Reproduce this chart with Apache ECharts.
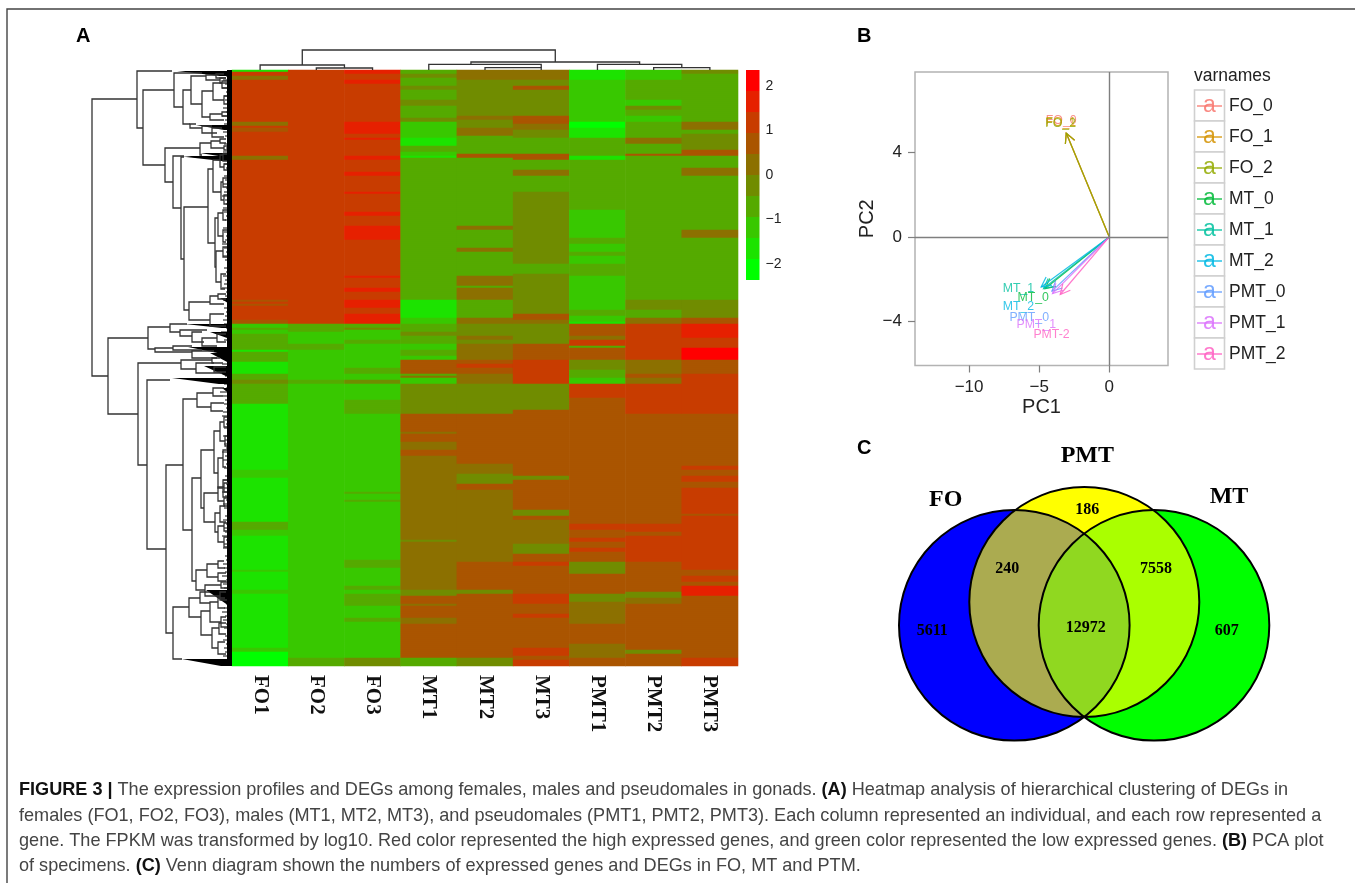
<!DOCTYPE html>
<html><head><meta charset="utf-8">
<style>html,body{margin:0;padding:0;background:#fff}#c{width:1355px;height:883px}</style>
<script src="https://cdn.jsdelivr.net/npm/echarts@6/dist/echarts.min.js"></script>
</head><body><div id="c"></div>
<script>
// ---------- Panel A: heatmap ----------
const sampleNames = ['FO1','FO2','FO3','MT1','MT2','MT3','PMT1','PMT2','PMT3'];
const geneRowCount = 298;
// each column: runs of [last row of the run, log10 FPKM z-score]
const colFO1 = [[1,-1.65],[3,1.2],[5,.25],[26,1.2],[28,.25],[29,1.2],[31,.7],[43,1.2],[45,.25],[115,1.2],[116,.7],[117,1.2],[118,.7],[125,1.2],[127,.7],[129,-1.2],[130,-.7],[132,-1.2],[140,-.7],[141,-1.65],[146,-.7],[152,-1.65],[155,-.7],[157,-.25],[164,-.7],[167,-.7],[180,-1.65],[200,-1.65],[204,-1.2],[226,-1.65],[230,-.7],[233,-1.2],[250,-1.65],[251,-1.2],[260,-1.65],[262,-1.2],[289,-1.65],[291,-1.2],[298,-2.1]];
const colFO2 = [[127,1.2],[131,-.7],[137,-1.2],[140,-.7],[145,-1.2],[155,-1.2],[157,-.7],[294,-1.2],[298,-.7]];
const colFO3 = [[2,1.65],[5,1.2],[7,1.65],[26,1.2],[32,1.65],[34,1.2],[35,1.65],[43,1.2],[45,1.65],[51,1.2],[53,1.65],[61,1.2],[62,1.65],[71,1.2],[73,1.65],[78,1.2],[80,1.65],[85,1.65],[103,1.2],[104,1.65],[109,1.2],[111,1.65],[115,1.2],[119,1.65],[122,1.2],[127,1.65],[129,-.7],[130,-.25],[135,-1.2],[137,-.7],[149,-1.2],[152,-.7],[155,-1.2],[157,-.25],[165,-1.2],[172,-.7],[211,-1.2],[212,-.7],[215,-1.2],[216,-.7],[245,-1.2],[249,-.7],[258,-1.2],[260,-.7],[262,-1.2],[268,-.7],[274,-1.2],[276,-.7],[294,-1.2],[298,-.25]];
const colMT1 = [[2,-.7],[4,-.25],[8,-.7],[10,-.25],[15,-.7],[18,-.25],[24,-.7],[26,-.25],[34,-1.2],[38,-1.65],[41,-.7],[43,-1.2],[44,-1.65],[115,-.7],[124,-1.65],[127,-1.2],[131,-.7],[133,-.25],[137,-.7],[140,-1.2],[143,-.7],[145,-1.2],[152,.7],[153,-.7],[154,.25],[157,-1.2],[172,-.25],[181,.7],[182,.25],[186,.7],[190,.25],[193,.7],[200,.25],[211,.25],[235,.25],[236,-.25],[242,.25],[260,.25],[263,-.25],[267,.7],[268,.25],[274,.7],[277,.25],[294,.7],[298,-.7]];
const colMT2 = [[5,.25],[23,-.25],[25,.25],[29,-.25],[33,.25],[42,-.7],[44,.7],[78,-.7],[80,.25],[89,-.7],[91,.25],[103,-.7],[108,.25],[109,-.7],[115,.25],[124,-.7],[127,.25],[133,-.25],[135,.25],[137,-.25],[145,.25],[147,.7],[149,1.2],[152,.7],[157,.25],[172,-.25],[197,.7],[202,.25],[207,-.25],[210,.7],[214,.25],[246,.25],[260,.7],[262,-.25],[294,.7],[298,-.25]];
const colMT3 = [[5,.25],[8,-.25],[10,.7],[23,-.25],[27,.7],[30,.25],[34,-.25],[42,-.7],[45,.7],[50,-.7],[53,.25],[61,-.7],[67,-.25],[97,-.25],[102,-.7],[122,-.25],[125,.7],[127,.25],[137,-.25],[145,.7],[157,1.2],[170,-.25],[203,.7],[205,-.25],[220,.7],[223,-.25],[225,.7],[227,.25],[237,.25],[242,-.25],[246,.7],[248,1.2],[262,.7],[267,1.2],[272,.7],[274,1.2],[277,.7],[289,.7],[293,1.2],[295,.7],[298,1.2]];
const colPMT1 = [[5,-1.65],[26,-1.2],[29,-2.1],[34,-1.65],[43,-.7],[45,-1.65],[70,-.7],[84,-1.2],[87,-.7],[91,-1.2],[93,-.7],[97,-1.2],[103,-.7],[115,-1.2],[120,-1.2],[123,-.7],[126,-1.2],[127,-1.65],[133,.7],[135,.25],[138,1.2],[139,-.7],[145,.7],[150,-.25],[154,-.7],[157,-1.2],[164,1.2],[167,.7],[227,.7],[230,1.2],[234,.7],[236,1.2],[239,.7],[241,1.2],[246,.7],[252,-.25],[262,.7],[266,-.25],[277,.25],[287,.7],[294,.25],[298,.7]];
const colPMT2 = [[5,-1.2],[15,-.7],[18,-1.2],[20,-.25],[23,-.7],[26,-1.2],[34,-.7],[37,.25],[42,-.7],[43,.7],[115,-.7],[120,-.25],[124,-.7],[127,.25],[145,1.2],[152,.25],[154,.7],[157,.25],[172,1.2],[227,.7],[231,1.2],[233,.7],[246,1.2],[261,.7],[264,-.25],[267,.25],[290,.7],[292,-.25],[298,.7]];
const colPMT3 = [[2,-.25],[26,-.7],[30,.25],[32,-.7],[40,-.25],[43,.7],[49,-.7],[53,.25],[80,-.7],[84,.25],[115,-.7],[124,-.25],[127,.7],[134,1.65],[139,1.2],[145,2.1],[152,.7],[172,1.2],[198,.7],[200,1.2],[203,.7],[206,1.2],[209,.7],[222,1.2],[223,.7],[250,1.2],[253,.7],[256,1.2],[258,.7],[263,1.65],[294,.7],[298,1.2]];
const heatColumns = [colFO1,colFO2,colFO3,colMT1,colMT2,colMT3,colPMT1,colPMT2,colPMT3];
// colour key: ten steps, bottom to top
const keyBreaks = [-2.36,-1.888,-1.416,-.944,-.472,0,.472,.944,1.416,1.888,2.36];
const keyColors = ['#00ff00','#1ce300','#38c800','#55aa00','#708c00','#8c7000','#aa5500','#c83c00','#e62000','#ff0000'];
const keyTicks = [-2,-1,0,1,2];
// row dendrogram: [merge height, leaf a, leaf b, height of child a, height of child b]
const rowTree = [
[140,29,306,95,124],[95,1,58,60,89],[89,20,95,58,67],[58,3,37,30,49],[49,20,54,41,42],[41,6,34,26,30],[26,5,10,16,12],[16,4,8,8,6],[12,8,13,6,5],[30,21,47,19,22],[19,13,30,10,8],[10,11,18,5,5],[8,26,34,5,5],[22,44,50,10,8],[10,42,46,5,5],[42,54,58,36,30],[30,56,63,20,15],[20,58,67,10,8],[67,78,112,32,59],[32,73,85,21,30],[21,71,78,12,8],[12,69,73,6,6],[8,76,80,5,5],
[59,86,138,48,51],[51,87,189,48,48],[48,137,240,24,43],[24,99,173,19,17],[19,90,122,12,11],[12,85,97,9,8],[9,84,91,5,5],[8,94,100,5,5],[11,112,130,9,8],[9,108,117,5,5],[8,125,134,5,5],[17,148,197,14,16],[14,143,166,9,9],[9,140,150,5,6],[9,160,172,5,6],[16,181,212,9,11],[9,177,187,5,5],[11,204,219,6,7],[43,232,250,22,22],[22,226,234,14,8],[14,224,229,6,6],[22,244,256,8,6],
[124,268,344,84,94],[84,257,279,62,77],[62,254,262,45,52],[52,260,266,25,40],[40,262,272,30,28],[30,268,276,15,15],[15,264,272,6,6],[77,278,282,59,40],[59,276,280,40,30],[40,281,288,18,15],[94,293,395,51,85],[51,290,299,20,36],[20,288,293,12,9],[36,293,303,18,10],[18,297,302,6,6],[85,310,479,62,66],[66,395,563,49,59],[49,329,460,35,40],[35,323,337,19,21],[19,318,326,8,9],[21,333,341,8,9],[40,408,511,31,36],[31,380,438,18,28],[18,361,403,12,14],[12,352,371,8,7],[8,347,357,5,5],[7,366,376,5,5],[14,388,418,9,9],[9,380,397,5,6],[9,410,427,5,5],
[28,423,452,14,17],[14,417,431,8,8],[8,413,422,4,5],[8,428,436,5,5],[17,443,462,12,14],[12,436,452,7,6],[14,456,472,8,8],[8,453,461,5,5],[8,467,477,5,5],[36,500,520,25,27],[25,494,507,14,14],[14,491,498,8,7],[14,503,511,6,6],[27,515,526,11,12],[11,512,518,5,5],[12,522,530,6,5],
[59,537,589,43,50],[43,528,547,32,31],[32,522,533,22,22],[31,541,565,22,20],[22,532,552,14,11],[14,528,538,7,7],[11,547,557,6,5],[20,558,578,13,14],[13,553,564,6,6],[14,572,584,7,6]
];
// tapered black combs of very close merges: [first leaf, last leaf, reach]
const rowCombs = [[1,6,55],[55,60,36],[83,87,32],[86,90,50],[254,258,47],[277,284,44],[283,292,22],[296,306,28],[308,314,60],[520,534,26],[589,596,50],[87,91,46],[262,268,22],[318,324,10],[228,234,12]];
// how far the finest twig reaches from the leaves, one value per four leaves
const leafReach = [8,6,9,7,10,6,8,7,5,9,6,10,7,8,6,9,7,5,8,6,9,11,7,8,6,5,8,7,9,6,8,10,7,6,9,8,6,7,5,9,8,6,7,10,8,6,9,7,5,8,6,9,7,8,10,6,7,9,5,8,6,7,9,8,6,11,7,8,5,9,6,8,7,10,6,9,7,5,8,6,12,9,7,8,6,9,10,7,6,8,5,9,7,8,6,10,7,9,6,8,5,7,9,6,8,10,7,6,9,8,5,7,9,6,8,7,10,6,8,9,5,7,6,9,8,7,10,6,9,8,7,5,9,6,8,10,7,9,6,8,5,7,9,6,8,7,9,6,8];
// column dendrogram: [merge height, col a, col b, height a, height b], with columns centred on i + .5
const colTree = [[20,1.25,5.75,5,8],[5,.5,2,0,2],[2,1.5,2.5,0,0],[8,4.25,7.25,5.7,5.7],[5.7,3.5,5.5,0,2.3],[2.3,4.5,5.5,0,0],[5.7,6.5,8,0,2.3],[2.3,7.5,8.5,0,0]];

// ---------- Panel B: PCA ----------
const pcaNames = ['FO_0','FO_1','FO_2','MT_0','MT_1','MT_2','PMT_0','PMT_1','PMT_2'];
const pcaLabels = ['FO_0','FO_1','FO_2','MT_0','MT_1','MT_2','PMT_0','PMT_1','PMT-2'];
const pcaColors = ['#F8766D','#D39200','#93AA00','#00BA38','#00C19F','#00B9E3','#619CFF','#DB72FB','#FF61C3'];
const pc1 = [-3.07,-3.07,-3.07,-4.57,-4.69,-4.86,-4.09,-4.05,-3.5];
const pc2 = [4.93,4.93,4.93,-2.45,-2.45,-2.37,-2.57,-2.69,-2.73];
const labelPc1 = [-3.43,-3.46,-3.47,-5.43,-6.48,-6.48,-5.71,-5.21,-4.12];
const labelPc2 = [5.5,5.42,5.38,-2.88,-2.45,-3.32,-3.84,-4.16,-4.63];
const pc1Ticks = [-10,-5,0];
const pc2Ticks = [-4,0,4];

// ---------- Panel C: Venn ----------
const vennSets = ['FO','MT','PMT'];
const vennColors = ['#0000ff','#00ff00','#ffff00'];
const vennCx = [134.3,274,204.3];
const vennCy = [185.3,185.3,162];
const vennR = [115.3,115.3,115];
const vennOverlaps = [[0,2,'#abab50'],[1,2,'#aaff00'],[0,1,'#90d820']];
const vennTexts = ['FO','PMT','MT','186','240','7558','5611','12972','607'];
const vennTextX = [65.7,207.3,349,207.3,127.3,276,52.3,205.7,346.7];
const vennTextY = [59.3,15.7,56.7,70,129.3,129.3,191.3,187.7,191.3];
const vennTextBig = [1,1,1,0,0,0,0,0,0];

const captionLines = [
 '{b|FIGURE 3 |} The expression profiles and DEGs among females, males and pseudomales in gonads. {b|(A)} Heatmap analysis of hierarchical clustering of DEGs in',
 'females (FO1, FO2, FO3), males (MT1, MT2, MT3), and pseudomales (PMT1, PMT2, PMT3). Each column represented an individual, and each row represented a',
 'gene. The FPKM was transformed by log10. Red color represented the high expressed genes, and green color represented the low expressed genes. {b|(B)} PCA plot',
 'of specimens. {b|(C)} Venn diagram shown the numbers of expressed genes and DEGs in FO, MT and PTM.'
];

// ---------- build ----------
const heatData = [];
heatColumns.forEach((runs, c) => {
  let r = 0;
  runs.forEach(([end, z]) => { for (; r < end; r++) heatData.push([c, r, z]); });
});
const rowLabels = Array.from({length: geneRowCount}, (_, i) => String(i));
const treeLine = {stroke: '#333', lineWidth: 1.3, fill: null};
const pieces = keyColors.map((color, i) => ({min: keyBreaks[i], max: keyBreaks[i + 1], color}));
const sans = '"Liberation Sans", Arial, sans-serif';
const serif = '"Liberation Serif", "Times New Roman", serif';
const hidden = {show: false};

function circlePoints(a, b) {
  const dx = vennCx[b] - vennCx[a], dy = vennCy[b] - vennCy[a], d = Math.hypot(dx, dy);
  const m = (d * d + vennR[a] * vennR[a] - vennR[b] * vennR[b]) / (2 * d);
  const h = Math.sqrt(vennR[a] * vennR[a] - m * m);
  const px = vennCx[a] + m * dx / d, py = vennCy[a] + m * dy / d;
  return [[px - h * dy / d, py + h * dx / d], [px + h * dy / d, py - h * dx / d]];
}
function arcBetween(i, p, q) {
  let a = Math.atan2(p[1] - vennCy[i], p[0] - vennCx[i]);
  let b = Math.atan2(q[1] - vennCy[i], q[0] - vennCx[i]);
  let d = b - a;
  while (d > Math.PI) d -= 2 * Math.PI;
  while (d < -Math.PI) d += 2 * Math.PI;
  const out = [];
  for (let k = 0; k <= 60; k++) {
    const t = a + d * k / 60;
    out.push([vennCx[i] + vennR[i] * Math.cos(t), vennCy[i] + vennR[i] * Math.sin(t)]);
  }
  return out;
}

const option = {
  animation: false,
  backgroundColor: '#fff',
  textStyle: {fontFamily: sans},
  visualMap: {show: false, type: 'piecewise', seriesIndex: 0, pieces},
  grid: [
    {left: 232, top: 70, width: 506, height: 596},
    {left: 60, top: 70, width: 172, height: 596},
    {left: 232, top: 40, width: 506, height: 30},
    {left: 746, top: 70, width: 13.5, height: 210},
    {left: 915, top: 72, width: 253, height: 293.5, show: true, borderColor: '#b3b3b3', borderWidth: 1.5, backgroundColor: '#fff'},
    {left: 880, top: 440, width: 420, height: 310}
  ],
  xAxis: [
    {gridIndex: 0, type: 'category', data: sampleNames, axisLine: hidden, axisTick: hidden, splitLine: hidden,
     axisLabel: {rotate: -90, margin: 9, interval: 0, fontFamily: serif, fontWeight: 'bold', fontSize: 21, color: '#111'}},
    {gridIndex: 1, type: 'value', min: 0, max: 172, inverse: true, show: false},
    {gridIndex: 2, type: 'value', min: 0, max: 9, show: false},
    {gridIndex: 3, type: 'value', min: 0, max: 1, show: false},
    {gridIndex: 4, type: 'value', min: -13.86, max: 4.19, splitLine: hidden, axisLine: {show: false, onZero: false},
     axisTick: {show: true, length: 7, customValues: pc1Ticks, lineStyle: {color: '#7f7f7f', width: 1.2}},
     axisLabel: {customValues: pc1Ticks, margin: 13, fontSize: 17, color: '#222', fontFamily: sans,
       formatter: v => String(v).replace('-', '\u2212')},
     name: 'PC1', nameLocation: 'middle', nameGap: 32, nameTextStyle: {fontSize: 20, color: '#222', fontFamily: sans}},
    {gridIndex: 5, type: 'value', min: 0, max: 420, show: false}
  ],
  yAxis: [
    {gridIndex: 0, type: 'category', data: rowLabels, inverse: true, show: false},
    {gridIndex: 1, type: 'value', min: 0, max: 596, inverse: true, show: false},
    {gridIndex: 2, type: 'value', min: 0, max: 30, show: false},
    {gridIndex: 3, type: 'value', min: -2.36, max: 2.36, position: 'right', splitLine: hidden, axisLine: hidden, axisTick: hidden,
     axisLabel: {customValues: keyTicks, margin: 6, fontSize: 14, color: '#222', fontFamily: sans,
       formatter: v => String(v).replace('-', '\u2212')}},
    {gridIndex: 4, type: 'value', min: -6.1, max: 7.83, splitLine: hidden, axisLine: {show: false, onZero: false},
     axisTick: {show: true, length: 7, customValues: pc2Ticks, lineStyle: {color: '#7f7f7f', width: 1.2}},
     axisLabel: {customValues: pc2Ticks, margin: 13, fontSize: 17, color: '#222', fontFamily: sans,
       formatter: v => String(v).replace('-', '\u2212')},
     name: 'PC2', nameLocation: 'middle', nameGap: 38, nameRotate: 90, nameTextStyle: {fontSize: 20, color: '#222', fontFamily: sans}},
    {gridIndex: 5, type: 'value', min: 0, max: 310, inverse: true, show: false}
  ],
  series: [
    {type: 'heatmap', xAxisIndex: 0, yAxisIndex: 0, data: heatData, progressive: 0, silent: true, itemStyle: {borderWidth: 0}},
    // leaf comb
    {type: 'custom', xAxisIndex: 1, yAxisIndex: 1, silent: true, clip: false, data: leafReach.map((h, i) => [h, i * 4 + 2]),
     renderItem: (p, api) => {
       const a = api.coord([api.value(0), api.value(1)]), b = api.coord([0, api.value(1)]);
       return {type: 'line', shape: {x1: a[0], y1: a[1], x2: b[0], y2: b[1]}, style: {stroke: '#222', lineWidth: 1.1}};
     }},
    {type: 'custom', xAxisIndex: 1, yAxisIndex: 1, silent: true, clip: false, data: rowCombs,
     renderItem: (p, api) => {
       const y1 = api.value(0), y2 = api.value(1), h = api.value(2);
       return {type: 'polygon', shape: {points: [api.coord([h, y1]), api.coord([0, y1]), api.coord([0, y2]), api.coord([h * .22, y2])]}, style: {fill: '#000'}};
     }},
    {type: 'custom', xAxisIndex: 1, yAxisIndex: 1, silent: true, clip: false, data: [[0, 0, 596, 5]],
     renderItem: (p, api) => {
       const a = api.coord([api.value(3), api.value(1)]), b = api.coord([0, api.value(2)]);
       return {type: 'rect', shape: {x: a[0], y: a[1], width: b[0] - a[0], height: b[1] - a[1]}, style: {fill: '#000'}};
     }},
    {type: 'custom', xAxisIndex: 1, yAxisIndex: 1, silent: true, clip: false, data: rowTree,
     renderItem: (p, api) => {
       const [h, y1, y2, h1, h2] = [0, 1, 2, 3, 4].map(i => api.value(i));
       return {type: 'polyline', shape: {points: [api.coord([h1, y1]), api.coord([h, y1]), api.coord([h, y2]), api.coord([h2, y2])]}, style: treeLine};
     }},
    {type: 'custom', xAxisIndex: 2, yAxisIndex: 2, silent: true, clip: false, data: colTree,
     renderItem: (p, api) => {
       const [h, x1, x2, h1, h2] = [0, 1, 2, 3, 4].map(i => api.value(i));
       return {type: 'polyline', shape: {points: [api.coord([x1, h1]), api.coord([x1, h]), api.coord([x2, h]), api.coord([x2, h2])]}, style: treeLine};
     }},
    // colour key
    {type: 'custom', xAxisIndex: 3, yAxisIndex: 3, silent: true, clip: false, data: keyColors.map((c, i) => [keyBreaks[i], keyBreaks[i + 1]]),
     renderItem: (p, api) => {
       const a = api.coord([0, api.value(1)]), b = api.coord([1, api.value(0)]);
       return {type: 'rect', shape: {x: a[0], y: a[1], width: b[0] - a[0], height: b[1] - a[1]}, style: {fill: keyColors[p.dataIndex]}};
     }},
    // PCA arrows
    {type: 'custom', xAxisIndex: 4, yAxisIndex: 4, silent: true, clip: false, z: 3, data: pc1.map((v, i) => [v, pc2[i]]),
     renderItem: (p, api) => {
       const o = api.coord([0, 0]), t = api.coord([api.value(0), api.value(1)]);
       const ang = Math.atan2(o[1] - t[1], o[0] - t[0]), len = 11, sp = .47;
       const head = s => [t[0] + len * Math.cos(ang + s), t[1] + len * Math.sin(ang + s)];
       const st = {stroke: pcaColors[p.dataIndex], lineWidth: 1.2, fill: null, opacity: .85};
       return {type: 'group', children: [
         {type: 'line', shape: {x1: o[0], y1: o[1], x2: t[0], y2: t[1]}, style: st},
         {type: 'polyline', shape: {points: [head(sp), t, head(-sp)]}, style: st}
       ]};
     },
     markLine: {silent: true, symbol: 'none', animation: false, label: hidden, lineStyle: {color: '#7f7f7f', width: 1.4, type: 'solid'},
       data: [{xAxis: 0}, {yAxis: 0}]}},
    {type: 'custom', xAxisIndex: 4, yAxisIndex: 4, silent: true, clip: false, z: 4, data: labelPc1.map((v, i) => [v, labelPc2[i]]),
     renderItem: (p, api) => {
       const a = api.coord([api.value(0), api.value(1)]);
       return {type: 'text', x: a[0], y: a[1], style: {text: pcaLabels[p.dataIndex], fill: pcaColors[p.dataIndex], opacity: .8, fontSize: 12.3, fontFamily: sans, align: 'center', verticalAlign: 'middle'}};
     }},
    // Venn
    {type: 'custom', xAxisIndex: 5, yAxisIndex: 5, silent: true, clip: false, z: 2, data: vennCx.map((v, i) => [v, vennCy[i], vennR[i]]),
     renderItem: (p, api) => {
       const c = api.coord([api.value(0), api.value(1)]), r = api.size([api.value(2), 0])[0];
       return {type: 'circle', shape: {cx: c[0], cy: c[1], r}, style: {fill: vennColors[p.dataIndex]}};
     }},
    {type: 'custom', xAxisIndex: 5, yAxisIndex: 5, silent: true, clip: false, z: 3, data: vennOverlaps.map(o => [o[0], o[1]]),
     renderItem: (p, api) => {
       const i = api.value(0), j = api.value(1), [s, e] = circlePoints(i, j);
       const pts = arcBetween(i, s, e).concat(arcBetween(j, e, s)).map(q => api.coord(q));
       return {type: 'polygon', shape: {points: pts}, style: {fill: vennOverlaps[p.dataIndex][2]}};
     }},
    {type: 'custom', xAxisIndex: 5, yAxisIndex: 5, silent: true, clip: false, z: 4, data: vennCx.map((v, i) => [v, vennCy[i], vennR[i]]),
     renderItem: (p, api) => {
       const c = api.coord([api.value(0), api.value(1)]), r = api.size([api.value(2), 0])[0];
       return {type: 'circle', shape: {cx: c[0], cy: c[1], r}, style: {fill: null, stroke: '#000', lineWidth: 2}};
     }},
    {type: 'custom', xAxisIndex: 5, yAxisIndex: 5, silent: true, clip: false, z: 5, data: vennTextX.map((v, i) => [v, vennTextY[i]]),
     renderItem: (p, api) => {
       const a = api.coord([api.value(0), api.value(1)]), big = vennTextBig[p.dataIndex];
       return {type: 'text', x: a[0], y: a[1], style: {text: vennTexts[p.dataIndex], fill: '#000', fontWeight: 'bold', fontFamily: serif, fontSize: big ? 24 : 16, align: 'center', verticalAlign: 'middle'}};
     }}
  ],
  graphic: {elements: [
    {type: 'polyline', silent: true, shape: {points: [[1355, 9], [7, 9], [7, 883]]}, style: {stroke: '#444', lineWidth: 1.4, fill: null}},
    {type: 'text', silent: true, x: 76, y: 26, style: {text: 'A', fontSize: 20, fontWeight: 'bold', fontFamily: sans, fill: '#000'}},
    {type: 'text', silent: true, x: 857, y: 26, style: {text: 'B', fontSize: 20, fontWeight: 'bold', fontFamily: sans, fill: '#000'}},
    {type: 'text', silent: true, x: 857, y: 438, style: {text: 'C', fontSize: 20, fontWeight: 'bold', fontFamily: sans, fill: '#000'}},
    {type: 'text', silent: true, x: 1194, y: 67, style: {text: 'varnames', fontSize: 17.5, letterSpacing: 1.2, fontFamily: sans, fill: '#222'}},
    ...pcaNames.flatMap((n, i) => {
      const top = 90 + i * 31;
      return [
        {type: 'rect', silent: true, shape: {x: 1194.5, y: top, width: 30, height: 31}, style: {fill: '#fff', stroke: '#d0d0d0', lineWidth: 1.6}},
        {type: 'line', silent: true, shape: {x1: 1197, y1: top + 16, x2: 1222, y2: top + 16}, style: {stroke: pcaColors[i], lineWidth: 1.5, opacity: .85}},
        {type: 'text', silent: true, x: 1209.5, y: top + 16, style: {text: 'a', fontSize: 23, fontFamily: sans, fill: pcaColors[i], opacity: .85, align: 'center', verticalAlign: 'middle'}},
        {type: 'text', silent: true, x: 1229, y: top + 16, style: {text: n, fontSize: 17.5, fontFamily: sans, fill: '#222', verticalAlign: 'middle'}}
      ];
    }),
    ...captionLines.map((t, i) => ({type: 'text', silent: true, x: 19, y: [790, 815.5, 841, 866][i],
      style: {text: t, fontSize: 18.1, fontFamily: sans, fill: '#444', verticalAlign: 'middle',
        rich: {b: {fontWeight: 'bold', fontSize: 18.1, fontFamily: sans, fill: '#111', verticalAlign: 'middle'}}}}))
  ]}
};
const chart = echarts.init(document.getElementById('c'), null, {renderer: 'canvas'});
chart.setOption(option);
</script></body></html>
